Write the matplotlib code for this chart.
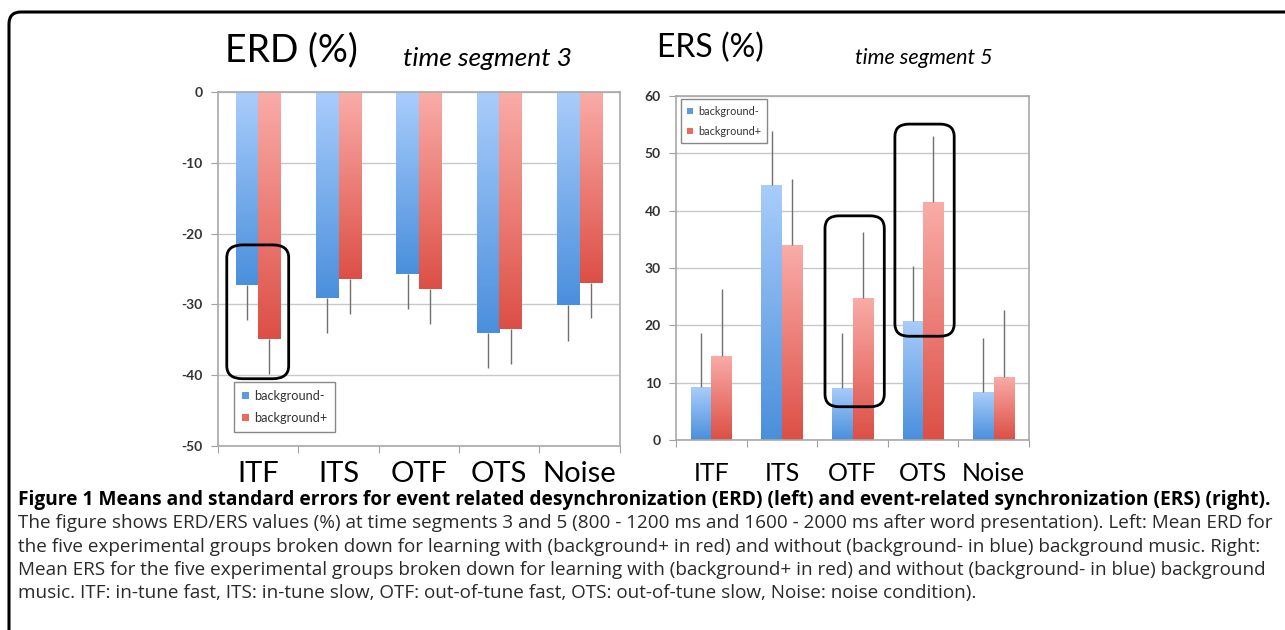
import numpy as np
import matplotlib
matplotlib.use("Agg")
import matplotlib.pyplot as plt
from matplotlib.colors import LinearSegmentedColormap
from matplotlib.patches import FancyBboxPatch, Patch

plt.rcParams["axes.unicode_minus"] = False

groups = ["ITF", "ITS", "OTF", "OTS", "Noise"]

# ERD, time segment 3
erd_minus = [-27.2, -29.1, -25.7, -34.0, -30.1]
erd_plus = [-34.9, -26.4, -27.8, -33.5, -27.0]
erd_minus_se = [5.0, 5.0, 4.9, 5.0, 5.1]
erd_plus_se = [4.9, 5.0, 5.0, 4.9, 4.9]

# ERS, time segment 5
ers_minus = [9.2, 44.5, 9.1, 20.8, 8.3]
ers_plus = [14.7, 34.0, 24.8, 41.5, 11.0]
ers_minus_se = [9.5, 9.4, 9.5, 9.5, 9.5]
ers_plus_se = [11.6, 11.5, 11.5, 11.5, 11.7]

BLUE = ("#4a8fdc", "#a9cdfb")   # bottom, top
RED = ("#dc4f45", "#faaca8")

FONT = "Lato"
CAP = "Open Sans"

fig = plt.figure(figsize=(12.85, 6.3), dpi=100)


def shade(ax, bars, cols):
    # vertical gradient inside each bar, dark at bottom
    cmap = LinearSegmentedColormap.from_list("g", list(cols))
    grad = np.linspace(0, 1, 256).reshape(-1, 1)
    for b in bars:
        x0, y0 = b.get_x(), b.get_y()
        w, h = b.get_width(), b.get_height()
        lo, hi = min(y0, y0 + h), max(y0, y0 + h)
        im = ax.imshow(grad, cmap=cmap, extent=[x0, x0 + w, lo, hi],
                       origin="lower", aspect="auto", zorder=2)
        im.set_clip_path(b)
        b.set_facecolor("none")
        b.set_edgecolor("none")


def panel(rect, m, p, mse, pse, ylim, step, lab_size, lab_pad, width):
    ax = fig.add_axes(rect)
    x = np.arange(len(groups))
    bm = ax.bar(x - width / 2, m, width, zorder=2)
    bp = ax.bar(x + width / 2, p, width, zorder=2)
    shade(ax, bm, BLUE)
    shade(ax, bp, RED)
    neg = ylim[0] < 0
    z = [0] * len(groups)
    ax.errorbar(x - width / 2, m, yerr=[mse, z] if neg else [z, mse], fmt="none",
                ecolor="#707070", elinewidth=1, capsize=0, zorder=3)
    ax.errorbar(x + width / 2, p, yerr=[pse, z] if neg else [z, pse], fmt="none",
                ecolor="#707070", elinewidth=1, capsize=0, zorder=3)
    ax.set_xlim(-0.5, len(groups) - 0.5)
    ax.set_ylim(*ylim)
    ax.set_yticks(np.arange(ylim[0], ylim[1] + 1, step))
    ax.yaxis.grid(True, color="#c8c8c8", lw=1, zorder=0)
    ax.set_axisbelow(True)
    ax.set_xticks(np.arange(len(groups) + 1) - 0.5, minor=False)
    ax.set_xticklabels([])
    ax.set_xticks(x, minor=True)
    ax.set_xticklabels(groups, minor=True, fontsize=lab_size, family=FONT)
    ax.tick_params(axis="x", which="minor", length=0, pad=lab_pad)
    ax.tick_params(axis="x", which="major", length=5, color="#a0a0a0", direction="out")
    ax.tick_params(axis="y", length=5, color="#a0a0a0", pad=6, labelsize=10, labelcolor="#333333")
    for t in ax.get_yticklabels():
        t.set_fontweight("bold")
        t.set_family(FONT)
    for s in ax.spines.values():
        s.set_color("#a8a8a8")
        s.set_linewidth(1.2)
    return ax


ax1 = panel([0.1696, 0.2921, 0.3128, 0.5619], erd_minus, erd_plus, erd_minus_se, erd_plus_se,
            (-50, 0), 10, 21, 11, 0.28)
ax2 = panel([0.5261, 0.3016, 0.2747, 0.546], ers_minus, ers_plus, ers_minus_se, ers_plus_se,
            (0, 60), 10, 18, 16, 0.29)

handles = [Patch(facecolor="#5b9be3"), Patch(facecolor="#ea6a62")]
names = ["background-", "background+"]
for ax, anchor, size in ((ax1, (0.04, 0.18), 9.2), (ax2, (0.014, 0.99), 7.8)):
    leg = ax.legend(handles, names, loc="upper left", bbox_to_anchor=anchor,
                    prop={"family": FONT, "size": size}, handlelength=0.55, handleheight=0.55,
                    handletextpad=0.4, fancybox=False, edgecolor="#888888",
                    framealpha=1, shadow=False, borderpad=0.6, labelspacing=0.8,
                    borderaxespad=0)
    leg.get_frame().set_linewidth(1)
    for t in leg.get_texts():
        t.set_color("#333333")

# highlight boxes
for ax, (x0, y0, x1, y1) in ((ax1, (-0.39, -40.5, 0.38, -21.6)),
                             (ax2, (1.61, 5.8, 2.45, 39.1)),
                             (ax2, (2.60, 18.1, 3.44, 55.1))):
    box = FancyBboxPatch((x0, y0), x1 - x0, y1 - y0, boxstyle="round,pad=0,rounding_size=0.2",
                         mutation_aspect=(ax.get_ylim()[1] - ax.get_ylim()[0]) / 5 * 0.9,
                         fill=False, ec="black", lw=2, zorder=5, clip_on=False)
    ax.add_patch(box)

# panel titles
fig.text(225 / 1285, 1 - 50 / 630, "ERD (%)", family=FONT, fontsize=27, va="center")
fig.text(403 / 1285, 1 - 58 / 630, "time segment 3", family=FONT, style="italic",
         fontsize=19, va="center")
fig.text(657 / 1285, 1 - 48 / 630, "ERS (%)", family=FONT, fontsize=23, va="center")
fig.text(855 / 1285, 1 - 58 / 630, "time segment 5", family=FONT, style="italic",
         fontsize=15.5, va="center")

# caption
caption = [
    "The figure shows ERD/ERS values (%) at time segments 3 and 5 (800 - 1200 ms and 1600 - 2000 ms after word presentation). Left: Mean ERD for",
    "the five experimental groups broken down for learning with (background+ in red) and without (background- in blue) background music. Right:",
    "Mean ERS for the five experimental groups broken down for learning with (background+ in red) and without (background- in blue) background",
    "music. ITF: in-tune fast, ITS: in-tune slow, OTF: out-of-tune fast, OTS: out-of-tune slow, Noise: noise condition).",
]
fig.text(18 / 1285, 1 - 500 / 630,
         "Figure 1 Means and standard errors for event related desynchronization (ERD) (left) and event-related synchronization (ERS) (right).",
         family=CAP, fontsize=13.8, fontweight="bold", va="center")
for i, line in enumerate(caption):
    fig.text(18 / 1285, 1 - (523.5 + i * 23.3) / 630, line, family=CAP, fontsize=13.55,
             color="#2a2a2a", va="center")

# outer frame
frame = FancyBboxPatch((0.09, -0.5), 14, 6.18 - (-0.5), boxstyle="round,pad=0,rounding_size=0.12",
                       transform=fig.dpi_scale_trans, fill=False, ec="black", lw=2.2)
fig.patches.append(frame)

fig.savefig("out.png", dpi=100)
